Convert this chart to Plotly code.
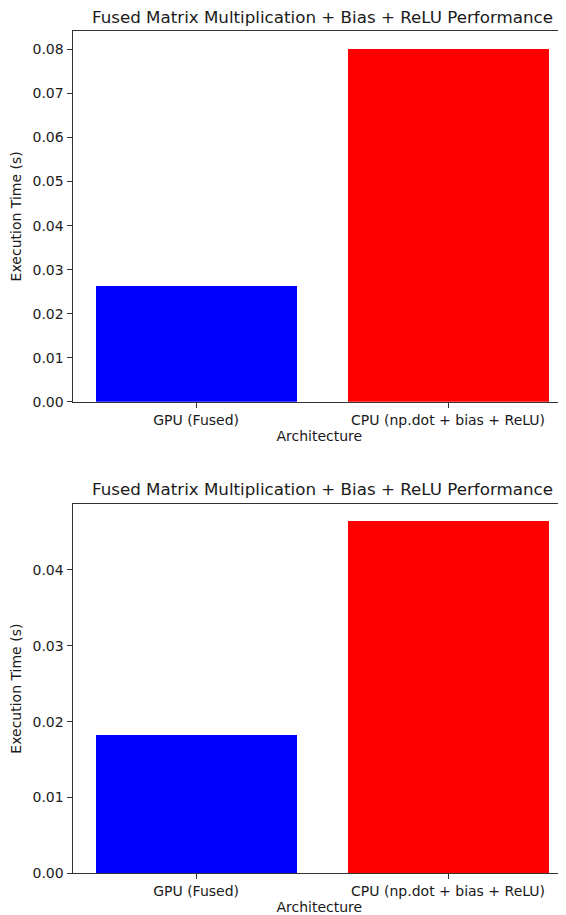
import plotly.graph_objects as go

categories = ["GPU (Fused)", "CPU (np.dot + bias + ReLU)"]
times_run1 = [0.0263, 0.0802]
times_run2 = [0.01829, 0.0464]
bar_colors = ["#0000ff", "#ff0000"]
title_text = "Fused Matrix Multiplication + Bias + ReLU Performance"
yticks_run1 = [0.00, 0.01, 0.02, 0.03, 0.04, 0.05, 0.06, 0.07, 0.08]
yticks_run2 = [0.00, 0.01, 0.02, 0.03, 0.04]

# page body has an 8px default margin; lay out in screen pixels, then compensate
OFF = 8
W, H = 566 - OFF, 915 - OFF
fig = go.Figure()
xpos = list(range(len(categories)))

fig.add_trace(go.Bar(x=xpos, y=times_run1, width=0.8, marker=dict(color=bar_colors, line=dict(width=0)),
                     xaxis="x", yaxis="y", showlegend=False))
fig.add_trace(go.Bar(x=xpos, y=times_run2, width=0.8, marker=dict(color=bar_colors, line=dict(width=0)),
                     xaxis="x2", yaxis="y2", showlegend=False))

font = dict(family="DejaVu Sans", size=14, color="#1a1a1a")
spine = "#333333"

def ydom(top_px, bot_px):
    return [1 - (bot_px - OFF) / H, 1 - (top_px - OFF) / H]

left_px = 72.6
right_px = 566
px_per_unit = 252
x_lo = -0.49
x_hi = x_lo + (right_px - left_px) / px_per_unit

xcommon = dict(tickvals=xpos, ticktext=categories, range=[x_lo, x_hi], showline=True, mirror=True,
               linecolor=spine, linewidth=1.2, ticks="outside", ticklen=5, tickcolor=spine,
               showgrid=False, zeroline=False, tickfont=dict(size=14),
               domain=[(left_px - OFF) / W, 1.0], automargin=False)
ycommon = dict(showline=True, linecolor=spine, linewidth=1.2, ticks="outside", ticklen=5,
               tickcolor=spine, showgrid=False, zeroline=False, tickfont=dict(size=14),
               tickformat=".2f", automargin=False)

fig.update_layout(
    template="none",
    width=W, height=H, margin=dict(l=0, r=0, t=0, b=0),
    paper_bgcolor="white", plot_bgcolor="white", font=font, bargap=0,
    xaxis=dict(**xcommon, anchor="y", title=dict(text="Architecture", font=dict(size=14), standoff=2)),
    yaxis=dict(**ycommon, domain=ydom(31, 401.7), range=[0, 0.0842], tickvals=yticks_run1,
               anchor="x", title=dict(text="Execution Time (s)", font=dict(size=14), standoff=7)),
    xaxis2=dict(**xcommon, anchor="y2", title=dict(text="Architecture", font=dict(size=14), standoff=2)),
    yaxis2=dict(**ycommon, domain=ydom(504, 873.3), range=[0, 0.0487], tickvals=yticks_run2,
                anchor="x2", title=dict(text="Execution Time (s)", font=dict(size=14), standoff=7)),
)

cx = ((72.6 + 571.6) / 2 - OFF) / W
for ymid in (17, 489):
    fig.add_annotation(text=title_text, x=cx, xref="paper", y=1 - (ymid - OFF) / H, yref="paper",
                       xanchor="center", yanchor="middle", showarrow=False, borderpad=0,
                       font=dict(size=16.7, family="DejaVu Sans", color="#1a1a1a"))

fig.write_html("out.html")
